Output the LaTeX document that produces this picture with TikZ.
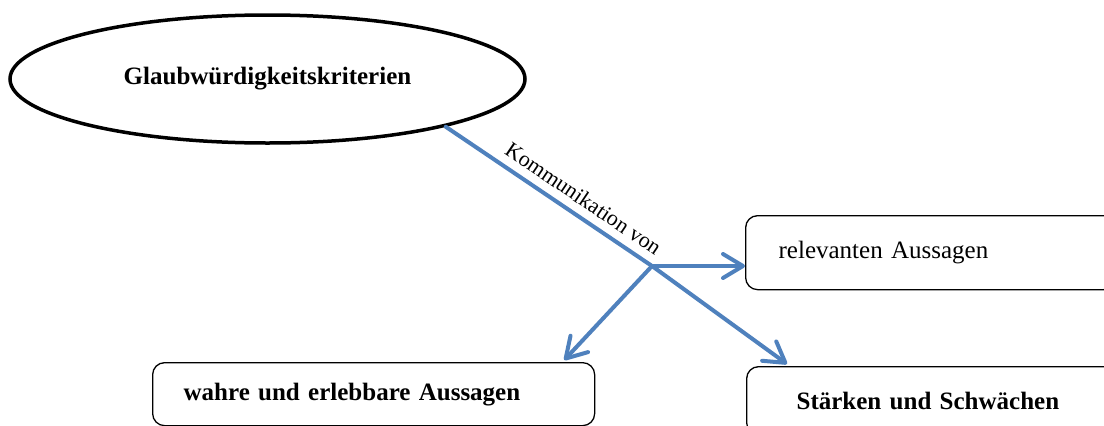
\documentclass[tikz,border=0pt]{standalone}
\usepackage{fontspec}
\setmainfont{Liberation Serif}
\usetikzlibrary{shapes.geometric,arrows.meta,calc}
\definecolor{linkblue}{RGB}{79,129,189}
\tikzset{
  topic/.style={ellipse, draw=black, line width=3.5pt, minimum width=515pt,
    minimum height=128pt, inner sep=0pt, font=\fontsize{25}{30}\selectfont\bfseries},
  itembox/.style={draw=black, line width=1.3pt, rounded corners=12pt,
    anchor=north west, align=left, inner ysep=0pt},
  link/.style={draw=linkblue, line width=4pt, line cap=round, line join=round},
  linkarrow/.style={link, -{Straight Barb[length=20pt,width=24pt,round]}},
}
\begin{document}
\begin{tikzpicture}[x=1pt,y=-1pt]
  \clip (0,0) rectangle (1104,426);
  \fill[white] (0,0) rectangle (1104,426);

  % central topic
  \node[topic] (crit) at (267.5,79) {Glaubwürdigkeitskriterien};

  % target boxes
  \node[itembox, minimum height=74pt, text width=304pt, inner xsep=33pt,
        font=\fontsize{25}{30}\selectfont] (rel) at (745,215) {relevanten Aussagen};
  \node[itembox, minimum height=63pt, text width=380pt, inner xsep=31pt,
        font=\fontsize{25}{30}\selectfont\bfseries] (wahr) at (152,362) {wahre und erlebbare Aussagen};
  \node[itembox, minimum height=68pt, text width=270pt, inner xsep=50pt,
        font=\fontsize{25}{30}\selectfont\bfseries] (str) at (746,366) {Stärken und Schwächen};

  % branching point of the connectors
  \coordinate (j) at (652,266);
  \coordinate (wtip) at ($(wahr.north east)+(-31,-2)$);
  \coordinate (stip) at ($(str.north west)+(41,-2)$);

  \draw[link] (crit.-15) -- (j)
    node[pos=0.62, sloped, above, inner sep=8pt, text=black,
         font=\fontsize{22}{26}\selectfont] {Kommunikation von};
  \draw[linkarrow] (j) -- (stip);
  \draw[linkarrow] (j) -- (j -| rel.west);
  \draw[linkarrow] (j) -- (wtip);
\end{tikzpicture}
\end{document}
